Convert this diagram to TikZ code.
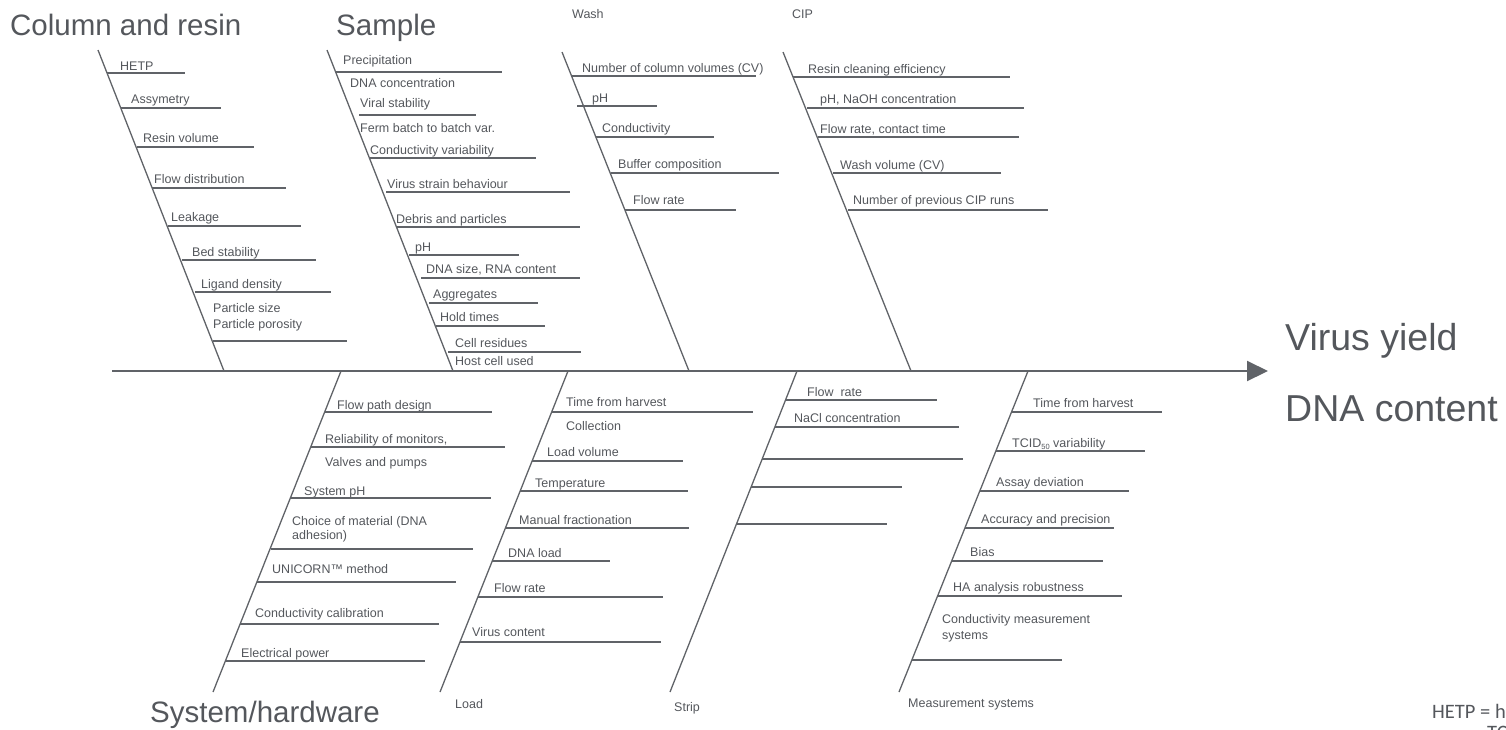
\documentclass[tikz,border=0pt]{standalone}
\usepackage{fontspec}
\setmainfont{Liberation Sans}
\newfontfamily\notefont{Carlito}
\usetikzlibrary{arrows.meta}
\definecolor{txt}{RGB}{84,87,92}
\definecolor{ln}{RGB}{96,99,104}
\tikzset{
  lbl/.style={anchor=base west, inner sep=0pt, text=txt, font=\fontsize{12.5}{15}\selectfont},
  ttl/.style={lbl, font=\fontsize{29.5}{34}\selectfont},
  eff/.style={lbl, font=\fontsize{37.5}{44}\selectfont},
  note/.style={lbl, font=\notefont\fontsize{20.5}{24}\selectfont},
  bone/.style={draw=ln, line width=1.3pt},
  branch/.style={draw=ln, line width=1.9pt},
  spine/.style={draw=ln, line width=2pt, -{Triangle[length=21pt,width=20pt]}},
}
\newcommand\flab[4]{\node[lbl] (#1) at (#2,#3) {#4};}
\newcommand\brl[3]{\draw[branch] (#1,#2) -- (#3,#2);}
\begin{document}
\begin{tikzpicture}[x=1pt,y=-1pt]
\useasboundingbox (0,0) rectangle (1506,729);
\clip (0,0) rectangle (1506,729);

% spine
\coordinate (spL) at (112,371);
\coordinate (spR) at (1268,371);
\draw[spine] (spL) -- (spR);

% ---------------- Column and resin
\node[ttl] (tCR) at (10,35) {Column and resin};
\coordinate (crT) at (98,50); \coordinate (crB) at (224,371);
\draw[bone] (crT) -- (crB);
\flab{c1}{120}{70}{HETP} \brl{107}{73}{185}
\flab{c2}{131}{103}{Assymetry} \brl{121}{108}{221}
\flab{c3}{143}{142}{Resin volume} \brl{137}{147}{254}
\flab{c4}{154}{183}{Flow distribution} \brl{152}{188}{286}
\flab{c5}{171}{221}{Leakage} \brl{168}{226}{301}
\flab{c6}{192}{256}{Bed stability} \brl{182}{260}{316}
\flab{c7}{201}{288}{Ligand density} \brl{195}{292}{331}
\flab{c8}{213}{312}{Particle size}
\flab{c9}{213}{328}{Particle porosity} \brl{213}{341}{347}

% ---------------- Sample
\node[ttl] (tS) at (336,35) {Sample};
\coordinate (sT) at (327,50); \coordinate (sB) at (453,371);
\draw[bone] (sT) -- (sB);
\flab{s1}{343}{64}{Precipitation} \brl{335}{72}{502}
\flab{s2}{350}{87}{DNA concentration}
\flab{s3}{360}{107}{Viral stability} \brl{359}{115}{476}
\flab{s4}{360}{132}{Ferm batch to batch var.}
\flab{s5}{370}{154}{Conductivity variability} \brl{369}{158}{536}
\flab{s6}{387}{188}{Virus strain behaviour} \brl{386}{192}{570}
\flab{s7}{396}{223}{Debris and particles} \brl{396}{227}{580}
\flab{s8}{415}{251}{pH} \brl{409}{255}{519}
\flab{s9}{426}{273}{DNA size, RNA content} \brl{421}{278}{580}
\flab{s10}{433}{298}{Aggregates} \brl{429}{303}{538}
\flab{s11}{440}{321}{Hold times} \brl{436}{326}{545}
\flab{s12}{455}{347}{Cell residues} \brl{448}{352}{581}
\flab{s13}{455}{365}{Host cell used}

% ---------------- Wash
\flab{tW}{572}{18}{Wash}
\coordinate (wT) at (562,52); \coordinate (wB) at (689,371);
\draw[bone] (wT) -- (wB);
\flab{w1}{582}{72}{Number of column volumes (CV)} \brl{572}{76}{756}
\flab{w2}{592}{102}{pH} \brl{577}{106}{657}
\flab{w3}{602}{132}{Conductivity} \brl{596}{137}{714}
\flab{w4}{618}{168}{Buffer composition} \brl{611}{173}{779}
\flab{w5}{633}{204}{Flow rate} \brl{625}{210}{736}

% ---------------- CIP
\flab{tC}{792}{18}{CIP}
\coordinate (cT) at (783,52); \coordinate (cB) at (911,371);
\draw[bone] (cT) -- (cB);
\flab{p1}{808}{73}{Resin cleaning efficiency} \brl{793}{77}{1010}
\flab{p2}{820}{103}{pH, NaOH concentration} \brl{807}{108}{1024}
\flab{p3}{820}{133}{Flow rate, contact time} \brl{818}{137}{1019}
\flab{p4}{840}{169}{Wash volume (CV)} \brl{833}{173}{1001}
\flab{p5}{853}{204}{Number of previous CIP runs} \brl{848}{210}{1048}

% ---------------- System/hardware
\node[ttl] (tSH) at (150,722) {System/hardware};
\coordinate (hT) at (341,371); \coordinate (hB) at (213,692);
\draw[bone] (hT) -- (hB);
\flab{h1}{337}{409}{Flow path design} \brl{325}{412}{492}
\flab{h2}{325}{443}{Reliability of monitors,} \brl{311}{447}{505}
\flab{h3}{325}{466}{Valves and pumps}
\flab{h4}{304}{495}{System pH} \brl{291}{498}{491}
\flab{h5}{292}{525}{Choice of material (DNA}
\flab{h6}{292}{539}{adhesion)} \brl{271}{549}{473}
\flab{h7}{272}{573}{UNICORN™ method} \brl{257}{582}{456}
\flab{h8}{255}{617}{Conductivity calibration} \brl{240}{624}{439}
\flab{h9}{241}{657}{Electrical power} \brl{226}{661}{425}

% ---------------- Load
\flab{tL}{455}{708}{Load}
\coordinate (lT) at (568,371); \coordinate (lB) at (440,692);
\draw[bone] (lT) -- (lB);
\flab{l1}{566}{406}{Time from harvest} \brl{552}{412}{753}
\flab{l2}{566}{430}{Collection}
\flab{l3}{547}{456}{Load volume} \brl{532}{461}{683}
\flab{l4}{535}{487}{Temperature} \brl{520}{491}{688}
\flab{l5}{519}{524}{Manual fractionation} \brl{505}{528}{689}
\flab{l6}{508}{557}{DNA load} \brl{492}{561}{610}
\flab{l7}{494}{592}{Flow rate} \brl{478}{597}{663}
\flab{l8}{472}{636}{Virus content} \brl{460}{642}{661}

% ---------------- Strip
\flab{tSt}{674}{711}{Strip}
\coordinate (stT) at (797,371); \coordinate (stB) at (670,692);
\draw[bone] (stT) -- (stB);
\flab{t1}{807}{396}{Flow\ \ rate} \brl{786}{400}{937}
\flab{t2}{794}{422}{NaCl concentration} \brl{775}{427}{959}
\brl{762}{459}{963}
\brl{751}{487}{902}
\brl{737}{524}{887}

% ---------------- Measurement systems
\flab{tM}{908}{707}{Measurement systems}
\coordinate (mT) at (1028,371); \coordinate (mB) at (899,692);
\draw[bone] (mT) -- (mB);
\flab{m1}{1033}{407}{Time from harvest} \brl{1012}{412}{1162}
\flab{m2}{1012}{447}{TCID{\fontsize{7.5}{8}\selectfont\raisebox{-2pt}{50}} variability} \brl{996}{451}{1145}
\flab{m3}{996}{486}{Assay deviation} \brl{980}{491}{1129}
\flab{m4}{981}{523}{Accuracy and precision} \brl{965}{528}{1114}
\flab{m5}{970}{556}{Bias} \brl{952}{561}{1103}
\flab{m6}{953}{591}{HA analysis robustness} \brl{938}{596}{1122}
\flab{m7}{942}{623}{Conductivity measurement}
\flab{m8}{942}{639}{systems} \brl{912}{660}{1062}

% ---------------- Effect
\node[eff] (e1) at (1285,350) {Virus yield};
\node[eff] (e2) at (1285,421) {DNA content};

% ---------------- footnotes (cut off by the page edge, as in the reference)
\node[note] (n1) at (1432,718) {HETP = height equivalent to a theoretical plate};
\node[note] (n2) at (1487,739) {TCID50 = tissue culture infectious dose 50\%};
\end{tikzpicture}
\end{document}
